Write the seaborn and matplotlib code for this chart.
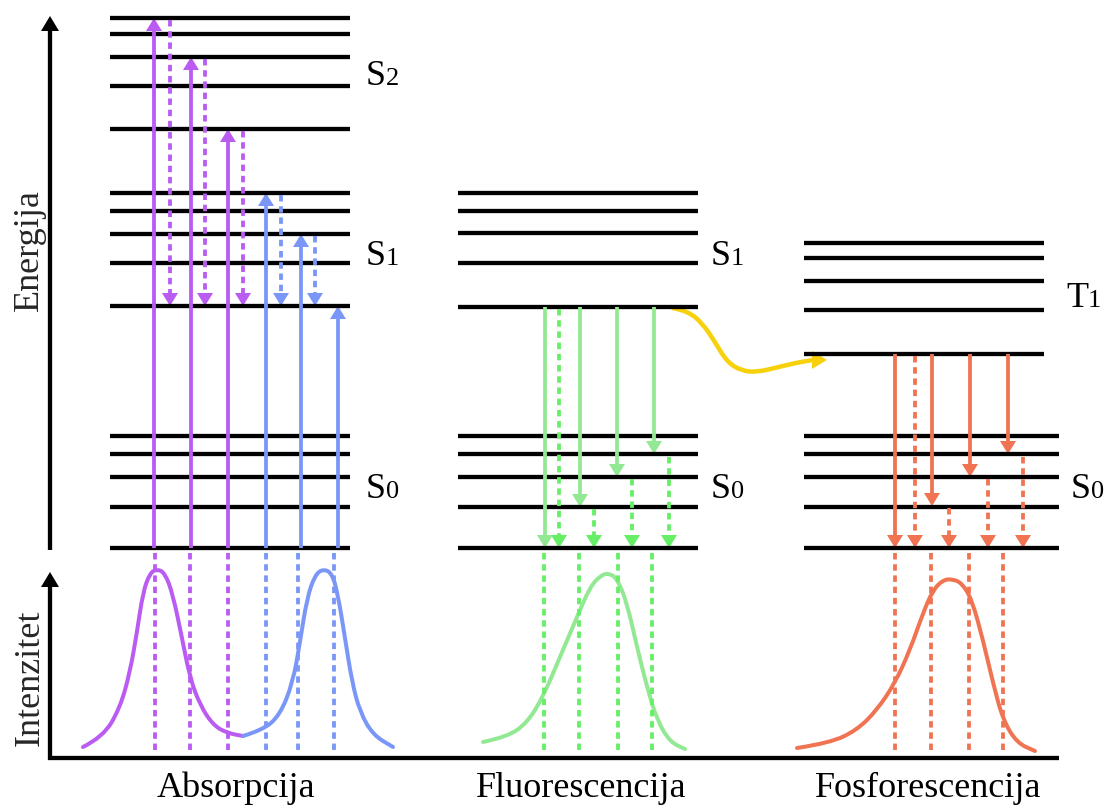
import numpy as np
import pandas as pd
import matplotlib
matplotlib.use("Agg")
import matplotlib.pyplot as plt
from matplotlib.path import Path
from matplotlib.patches import PathPatch
import seaborn as sns

# ---------------- data (in picture units) ----------------
abs_S2 = [18, 34, 57, 86, 129]
abs_S1 = [193, 211, 234, 263, 306]
S0_levels = [436, 454, 477, 507, 548]
flu_S1 = [193, 211, 233, 263, 307]
pho_T1 = [243, 258, 281, 310, 354]

panel_x = {"abs": (110, 350), "flu": (458, 698), "phoT": (804, 1044), "phoS": (804, 1059)}

# absorption transitions: (x, from_y, to_y)
abs_purple_up = [(154, 548, 18), (191, 548, 57), (228, 548, 129)]
abs_purple_relax = [(170, 20, 306), (205, 59, 306), (243, 131, 306)]
abs_blue_up = [(266, 548, 193), (301, 548, 234), (338, 548, 306)]
abs_blue_relax = [(281, 195, 306), (315, 236, 306)]
abs_purple_drop = [155, 190, 228]
abs_blue_drop = [266, 298, 334]

# fluorescence transitions
flu_emit = [(545, 307, 548), (580, 307, 507), (617, 307, 477), (654, 307, 454)]
flu_relax = [(559, 309, 548), (594, 509, 548), (632, 479, 548), (669, 457, 548)]
flu_drop = [544, 579, 618, 652]

# phosphorescence transitions
pho_emit = [(895, 354, 548), (932, 354, 506), (970, 354, 477), (1008, 354, 454)]
pho_relax = [(915, 356, 548), (949, 508, 548), (988, 479, 548), (1023, 457, 548)]
pho_drop = [895, 931, 969, 1003]

# spectra
abs_purple_x = [83, 103, 120, 130, 137, 143, 150, 157, 165, 173, 182, 190, 200, 213, 227, 243]
abs_purple_y = [747, 737, 708, 672, 632, 592, 573, 569, 573, 595, 638, 678, 705, 725, 733, 736]
abs_blue_x = [243, 263, 280, 293, 300, 307, 315, 323, 332, 338, 345, 352, 360, 373, 393]
abs_blue_y = [736, 730, 715, 682, 642, 598, 575, 569, 573, 595, 638, 682, 712, 735, 747]
flu_x = [483, 507, 527, 543, 560, 577, 590, 600, 608, 617, 627, 637, 647, 657, 670, 685]
flu_y = [742, 737, 723, 697, 657, 617, 587, 576, 573, 578, 603, 647, 687, 720, 742, 749]
pho_x = [797, 830, 857, 877, 895, 910, 923, 933, 943, 952, 962, 972, 983, 993, 1003, 1017, 1035]
pho_y = [748, 743, 730, 710, 683, 650, 613, 590, 580, 579, 583, 600, 640, 683, 720, 743, 751]

# intersystem crossing (yellow wavy arrow)
isc_x = [673, 688, 703, 715, 727, 742, 757, 775, 795, 813]
isc_y = [308, 311, 324, 342, 362, 371, 372, 368, 363, 360]
isc_tip = (827, 360)

# labels
state_labels = [("S", "2", 366, 85), ("S", "1", 366, 265), ("S", "0", 366, 498),
                ("S", "1", 711, 265), ("S", "0", 711, 498),
                ("T", "1", 1066, 307), ("S", "0", 1071, 498)]
bottom_labels = [("Absorpcija", 236), ("Fluorescencija", 581), ("Fosforescencija", 928)]

# ---------------- style ----------------
PURPLE = "#BA5BF2"
BLUE = "#7A97F7"
GREEN = "#93E993"
GREEN_D = "#66EE66"
ORANGE = "#F07352"
YELLOW = "#F7D20C"

sns.set_theme(style="white")
plt.rcParams["font.family"] = ["Liberation Serif", "DejaVu Serif"]

W, H = 1117, 806
fig = plt.figure(figsize=(W / 100, H / 100), dpi=100)
ax = fig.add_axes([0, 0, 1, 1])

PX = 0.72  # points per pixel
DASH = (0, (1.7, 1.25))
ARW = 3.8   # arrow shaft width (px)


def arrow(x, y0, y1, color, dashed=False, lw=ARW, hl=13, hw=16):
    d = np.sign(y1 - y0)
    base = y1 - d * hl
    ax.plot([x, x], [y0, base + d * 1], color=color, lw=lw * PX,
            ls=DASH if dashed else "-", solid_capstyle="butt", dash_capstyle="butt")
    ax.fill([x - hw / 2, x + hw / 2, x], [base, base, y1], color=color, lw=0)


def smooth_curve(xs, ys, color, lw):
    pts = list(zip(xs, ys))
    verts = [pts[0]]
    codes = [Path.MOVETO]
    for i in range(1, len(pts) - 1):
        mid = ((pts[i][0] + pts[i + 1][0]) / 2, (pts[i][1] + pts[i + 1][1]) / 2)
        verts += [pts[i], mid]
        codes += [Path.CURVE3, Path.CURVE3]
    verts.append(pts[-1])
    codes.append(Path.LINETO)
    ax.add_patch(PathPatch(Path(verts, codes), fill=False, edgecolor=color,
                           lw=lw * PX, capstyle="round", joinstyle="round"))


# dotted drop lines in the intensity panel (seaborn)
drops = []
for name, xs, col in [("ap", abs_purple_drop, PURPLE), ("ab", abs_blue_drop, BLUE),
                      ("fl", flu_drop, GREEN_D), ("ph", pho_drop, ORANGE)]:
    for i, x in enumerate(xs):
        drops.append({"x": x, "y": 553, "u": f"{name}{i}", "g": name})
        drops.append({"x": x, "y": 750, "u": f"{name}{i}", "g": name})
drop_df = pd.DataFrame(drops)
sns.lineplot(data=drop_df, x="x", y="y", units="u", hue="g", estimator=None, sort=False,
             palette={"ap": PURPLE, "ab": BLUE, "fl": GREEN_D, "ph": ORANGE},
             lw=ARW * PX, ax=ax, legend=False)
for ln in ax.get_lines():
    ln.set_linestyle(DASH)
    ln.set_dash_capstyle("butt")

# energy levels
lev_lw = 4.3 * PX
ax.hlines(abs_S2 + abs_S1 + S0_levels, *panel_x["abs"], color="black", lw=lev_lw)
ax.hlines(flu_S1 + S0_levels, *panel_x["flu"], color="black", lw=lev_lw)
ax.hlines(pho_T1, *panel_x["phoT"], color="black", lw=lev_lw)
ax.hlines(S0_levels, *panel_x["phoS"], color="black", lw=lev_lw)

# axes arrows
ax.plot([50, 50], [550, 30], color="black", lw=4.3 * PX, solid_capstyle="butt")
ax.fill([41, 59, 50], [31, 31, 16], color="black", lw=0)
ax.plot([50, 50], [760, 586], color="black", lw=4.3 * PX, solid_capstyle="butt")
ax.fill([41, 59, 50], [587, 587, 572], color="black", lw=0)
ax.plot([48, 1059], [758, 758], color="black", lw=4.3 * PX, solid_capstyle="butt")

# absorption transitions
for x, a, b in abs_purple_up:
    arrow(x, a, b, PURPLE)
for x, a, b in abs_purple_relax:
    arrow(x, a, b, PURPLE, dashed=True)
for x, a, b in abs_blue_up:
    arrow(x, a, b, BLUE)
for x, a, b in abs_blue_relax:
    arrow(x, a, b, BLUE, dashed=True)

# fluorescence transitions
for x, a, b in flu_emit:
    arrow(x, a, b, GREEN)
for x, a, b in flu_relax:
    arrow(x, a, b, GREEN_D, dashed=True)

# phosphorescence transitions
for x, a, b in pho_emit:
    arrow(x, a, b, ORANGE)
for x, a, b in pho_relax:
    arrow(x, a, b, ORANGE, dashed=True)

# spectra
smooth_curve(abs_purple_x, abs_purple_y, PURPLE, 4.0)
smooth_curve(abs_blue_x, abs_blue_y, BLUE, 4.0)
smooth_curve(flu_x, flu_y, GREEN, 4.0)
smooth_curve(pho_x, pho_y, ORANGE, 4.0)

# yellow intersystem crossing
smooth_curve(isc_x, isc_y, YELLOW, 4.5)
tx, ty = isc_tip
ax.fill([tx - 15, tx - 15, tx], [ty - 9, ty + 9, ty], color=YELLOW, lw=0)

ax.set_xlim(0, W)
ax.set_ylim(H, 0)
ax.axis("off")

# texts
for big, small, x, y in state_labels:
    ax.text(x, y, big, fontsize=26, color="black", ha="left", va="baseline")
    off = 20 if big == "S" else 22
    ax.text(x + off, y, small, fontsize=19, color="black", ha="left", va="baseline")

for txt, x in bottom_labels:
    ax.text(x, 797, txt, fontsize=26, color="black", ha="center", va="baseline")

ax.text(29, 250, "Energija", fontsize=26, rotation=90, ha="center", va="center")
ax.text(30, 678, "Intenzitet", fontsize=26, rotation=90, ha="center", va="center")

fig.savefig("out.png", dpi=100)
